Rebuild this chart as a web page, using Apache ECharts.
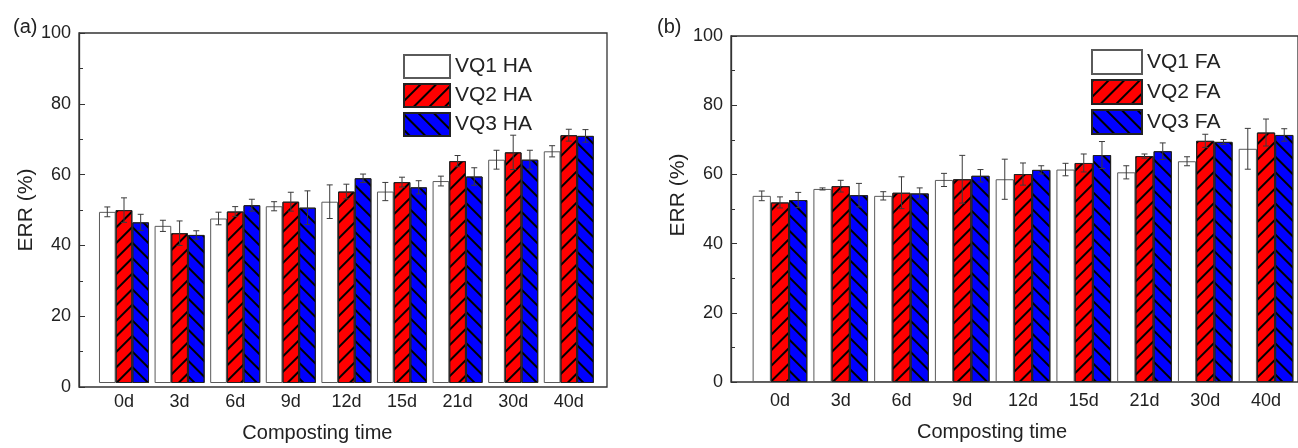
<!DOCTYPE html>
<html>
<head>
<meta charset="utf-8">
<script src="https://cdn.jsdelivr.net/npm/echarts@6/dist/echarts.min.js"></script>
<style>
  html, body { margin: 0; padding: 0; background: #fff; }
  #main { width: 1298px; height: 448px; }
</style>
</head>
<body>
<div id="main"></div>
<script>
// 堆肥时间
var days = ['0d', '3d', '6d', '9d', '12d', '15d', '21d', '30d', '40d'];
var yTicks = [0, 20, 40, 60, 80, 100];

// (a) HA
var haVQ1 = [48.9, 44.9, 47.0, 50.5, 51.8, 54.7, 57.7, 63.8, 66.2];
var haVQ1Err = [1.4, 1.6, 1.8, 1.3, 4.8, 2.6, 1.4, 2.7, 1.6];
var haVQ2 = [49.4, 42.8, 49.0, 51.8, 54.7, 57.4, 63.4, 65.9, 70.8];
var haVQ2Err = [3.5, 3.5, 1.4, 2.7, 2.1, 1.4, 1.6, 4.9, 1.7];
var haVQ3 = [45.9, 42.3, 50.8, 50.1, 58.5, 55.9, 59.0, 63.8, 70.6];
var haVQ3Err = [2.3, 1.2, 1.7, 4.8, 1.2, 1.9, 2.5, 2.7, 1.8];

// (b) FA
var faVQ1 = [53.8, 55.8, 53.8, 58.4, 58.6, 61.4, 60.6, 63.8, 67.4];
var faVQ1Err = [1.4, 0.3, 1.2, 1.9, 5.8, 1.8, 1.9, 1.3, 5.9];
var faVQ2 = [51.9, 56.6, 54.7, 58.6, 60.1, 63.3, 65.3, 69.7, 72.1];
var faVQ2Err = [1.6, 1.7, 4.6, 6.9, 3.2, 2.6, 0.6, 1.9, 3.9];
var faVQ3 = [52.6, 54.0, 54.5, 59.6, 61.3, 65.6, 66.7, 69.4, 71.4];
var faVQ3Err = [2.2, 3.4, 1.6, 1.8, 1.2, 3.9, 2.4, 0.7, 1.8];

var FONT = 'Liberation Sans, Arial, sans-serif';
var myChart = echarts.init(document.getElementById('main'), null, { renderer: 'canvas' });

var styles = [
    { color: '#ffffff', borderColor: '#5a5a5a', borderWidth: 1 },
    { color: '#ff0000', borderColor: '#222', borderWidth: 1,
      decal: { symbol: 'rect', symbolSize: 1, dashArrayX: [1, 0], dashArrayY: [2, 9], rotation: -Math.PI / 4, color: '#000' } },
    { color: '#0000ff', borderColor: '#222', borderWidth: 1,
      decal: { symbol: 'rect', symbolSize: 1, dashArrayX: [1, 0], dashArrayY: [2, 9], rotation: Math.PI / 4, color: '#000' } }
];

function errRender(offset) {
    return function (params, api) {
        var i = api.value(0), m = api.value(1), e = api.value(2);
        var band = api.size([1, 0])[0];
        var dx = offset * band * 0.3;
        var hi = api.coord([i, m + e]);
        var lo = api.coord([i, m - e]);
        var x = hi[0] + dx, cap = 3;
        var st = { stroke: '#3a3a3a', lineWidth: 1 };
        return {
            type: 'group',
            children: [
                { type: 'line', shape: { x1: x, y1: hi[1], x2: x, y2: lo[1] }, style: st },
                { type: 'line', shape: { x1: x - cap, y1: hi[1], x2: x + cap, y2: hi[1] }, style: st },
                { type: 'line', shape: { x1: x - cap, y1: lo[1], x2: x + cap, y2: lo[1] }, style: st }
            ]
        };
    };
}

function outerY(grid) {
    return {
        gridIndex: grid, type: 'value', min: 0, max: 100, interval: 20,
        axisLine: { show: true, lineStyle: { color: '#333', width: 1.3 } },
        axisTick: { inside: true, length: 6, lineStyle: { color: '#333' } },
        minorTick: { show: true, splitNumber: 2, length: 4, lineStyle: { color: '#333' } },
        splitLine: { show: false },
        axisLabel: { fontSize: 18, fontFamily: FONT, color: '#222', margin: 8,
            formatter: function (v) { return yTicks.indexOf(v) >= 0 ? String(v) : ''; } },
        name: 'ERR (%)', nameLocation: 'middle', nameGap: grid === 0 ? 36 : 42,
        nameTextStyle: { fontSize: 21, fontFamily: FONT, color: '#222', padding: grid === 0 ? [0, 0, 0, 0] : [0, 0, 0, 28] }
    };
}

function innerX(grid, pad) {
    return {
        gridIndex: grid, type: 'category', data: days,
        axisLine: { show: false },
        axisTick: { alignWithLabel: true, inside: true, length: 7, lineStyle: { color: '#333' } },
        axisLabel: { fontSize: 18, fontFamily: FONT, color: '#222', margin: 10 },
        name: 'Composting time', nameLocation: 'middle', nameGap: 40,
        nameTextStyle: { fontSize: 20, fontFamily: FONT, color: '#222', padding: [0, pad, 0, 0] }
    };
}

function barsFor(names, vals, errs, xi, yi) {
    var out = [];
    for (var k = 0; k < 3; k++) {
        out.push({
            name: names[k], type: 'bar', xAxisIndex: xi, yAxisIndex: yi,
            barWidth: '30%', barGap: '0%', data: vals[k],
            itemStyle: styles[k], emphasis: { disabled: true }
        });
    }
    for (var k2 = 0; k2 < 3; k2++) {
        out.push({
            type: 'custom', xAxisIndex: xi, yAxisIndex: yi, z: 5,
            renderItem: errRender(k2 - 1),
            data: vals[k2].map(function (v, i) { return [i, v, errs[k2][i]]; })
        });
    }
    return out;
}

var haNames = ['VQ1 HA', 'VQ2 HA', 'VQ3 HA'];
var faNames = ['VQ1 FA', 'VQ2 FA', 'VQ3 FA'];

var option = {
    animation: false,
    backgroundColor: '#fff',
    title: [
        { text: '(a)', left: 8, top: 12, textStyle: { fontSize: 20, fontWeight: 'normal', fontFamily: FONT, color: '#222' } },
        { text: '(b)', left: 652, top: 12, textStyle: { fontSize: 20, fontWeight: 'normal', fontFamily: FONT, color: '#222' } }
    ],
    legend: [
        { data: haNames, orient: 'vertical', left: 398, top: 49, itemWidth: 46, itemHeight: 23, itemGap: 4,
          icon: 'rect', selectedMode: false, textStyle: { fontSize: 21, fontFamily: FONT, color: '#222' } },
        { data: faNames, orient: 'vertical', left: 1086, top: 44, itemWidth: 50, itemHeight: 24, itemGap: 4,
          icon: 'rect', selectedMode: false, textStyle: { fontSize: 21, fontFamily: FONT, color: '#222' } }
    ],
    grid: [
        { left: 79, top: 33, width: 528, height: 354, show: true, borderColor: '#333', borderWidth: 1.3 },
        { left: 96.2, top: 33, width: 500.4, height: 354 },
        { left: 731, top: 36, width: 600, height: 346, show: true, borderColor: '#333', borderWidth: 1.3 },
        { left: 749.6, top: 36, width: 546.8, height: 346 }
    ],
    xAxis: [
        { gridIndex: 0, type: 'value', min: 0, max: 1, show: false },
        innerX(1, 58),
        { gridIndex: 2, type: 'value', min: 0, max: 1, show: false },
        innerX(3, 62)
    ],
    yAxis: [
        outerY(0),
        { gridIndex: 1, type: 'value', min: 0, max: 100, show: false },
        outerY(2),
        { gridIndex: 3, type: 'value', min: 0, max: 100, show: false }
    ],
    series: [].concat(
        barsFor(haNames, [haVQ1, haVQ2, haVQ3], [haVQ1Err, haVQ2Err, haVQ3Err], 1, 1),
        barsFor(faNames, [faVQ1, faVQ2, faVQ3], [faVQ1Err, faVQ2Err, faVQ3Err], 3, 3)
    )
};
myChart.setOption(option);
</script>
</body>
</html>
